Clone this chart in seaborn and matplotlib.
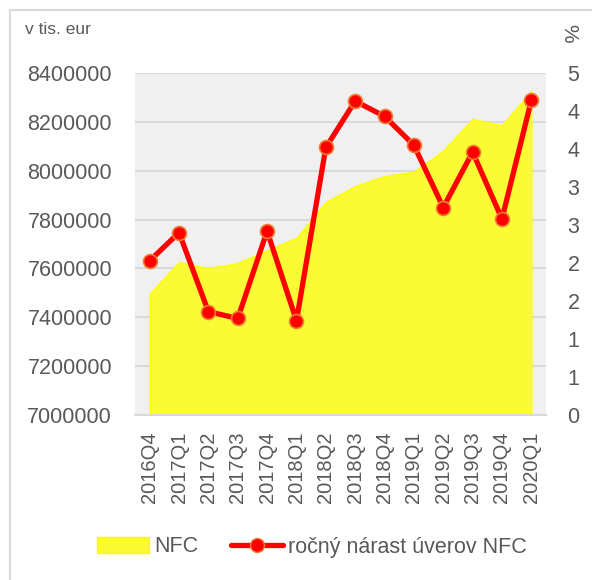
import numpy as np
import matplotlib
matplotlib.use("Agg")
import matplotlib.pyplot as plt
import seaborn as sns
from matplotlib.lines import Line2D
from matplotlib.patches import Patch

# Dáta
kvartaly = ['2016Q4', '2017Q1', '2017Q2', '2017Q3', '2017Q4', '2018Q1', '2018Q2',
            '2018Q3', '2018Q4', '2019Q1', '2019Q2', '2019Q3', '2019Q4', '2020Q1']
nfc = [7497000, 7626000, 7601000, 7622000, 7675000, 7725000, 7872000,
       7937000, 7978000, 7996000, 8082000, 8212000, 8186000, 8327000]
narast = [2.03, 2.40, 1.36, 1.27, 2.42, 1.24, 3.52,
          4.13, 3.93, 3.55, 2.73, 3.46, 2.58, 4.14]

sns.set_style("white")
plt.rcParams['font.family'] = ['Liberation Sans', 'DejaVu Sans']
sedá = '#595959'

fig = plt.figure(figsize=(5.92, 5.80), dpi=100)
ax = fig.add_axes([135/592, 1 - 415/580, 411/592, 342/580])
ax.set_facecolor('#F0F0F0')

x = np.arange(len(kvartaly))
ax.fill_between(x, 7000000, nfc, color='#FAFA35', edgecolor='#FFFF00', linewidth=1, zorder=2)
ax.set_ylim(7000000, 8400000)
ax.set_xlim(-0.5, len(kvartaly) - 0.5)
ax.set_yticks(np.arange(7000000, 8400001, 200000))
ax.set_yticklabels([f'{v:d}' for v in range(7000000, 8400001, 200000)])
ax.yaxis.grid(True, color='#D9D9D9', linewidth=1.5, zorder=1)
ax.set_axisbelow(True)
ax.set_xticks(x)
ax.set_xticklabels(kvartaly, rotation=90)
ax.tick_params(axis='y', length=0, pad=16.5, labelsize=15.5, labelcolor=sedá)
ax.tick_params(axis='x', length=0, pad=12, labelsize=14.5, labelcolor=sedá)
for s in ['left', 'right', 'top']:
    ax.spines[s].set_visible(False)
ax.spines['bottom'].set_color('#D9D9D9')
ax.spines['bottom'].set_linewidth(1.5)

ax2 = ax.twinx()
sns.lineplot(x=x, y=narast, ax=ax2, color='#FF0000', linewidth=3.8,
             marker='o', markersize=10, markerfacecolor='#FF0000',
             markeredgecolor='#ED7D31', markeredgewidth=1.2, zorder=5)
ax2.set_ylim(0, 4.5)
ticks2 = np.arange(0, 4.51, 0.5)
ax2.set_yticks(ticks2)
ax2.set_yticklabels([str(int(np.floor(t + 0.5))) for t in ticks2])
ax2.tick_params(axis='y', length=0, pad=15.5, labelsize=15.5, labelcolor=sedá)
for s in ['left', 'right', 'top', 'bottom']:
    ax2.spines[s].set_visible(False)
ax2.set_xlim(-0.5, len(kvartaly) - 0.5)

fig.text(25/592, 1 - 30/580, 'v tis. eur', fontsize=12.5, color=sedá, va='center', ha='left')
fig.text(569/592, 1 - 33/580, '%', fontsize=15, color=sedá, rotation=270, va='center', ha='center')

# Rámik okolo grafu (len ľavá a horná hrana, zvyšok je orezaný)
fig.add_artist(Line2D([10/592, 10/592, 1], [0, 1 - 10/580, 1 - 10/580],
                      transform=fig.transFigure, color='#D9D9D9', linewidth=1.5))

handles = [Patch(facecolor='#FAFA35', edgecolor='#FFFF00', label='NFC'),
           Line2D([0], [0], color='#FF0000', linewidth=3.8, marker='o', markersize=10,
                  markerfacecolor='#FF0000', markeredgecolor='#ED7D31',
                  label='ročný nárast úverov NFC')]
leg = fig.legend(handles=handles, loc='center', bbox_to_anchor=(312/592, 1 - 547/580),
                 ncol=2, frameon=False, fontsize=15.5, handlelength=2.4,
                 handletextpad=0.25, columnspacing=1.5)
for t in leg.get_texts():
    t.set_color(sedá)

plt.savefig('out.png', dpi=100)
plt.close()
